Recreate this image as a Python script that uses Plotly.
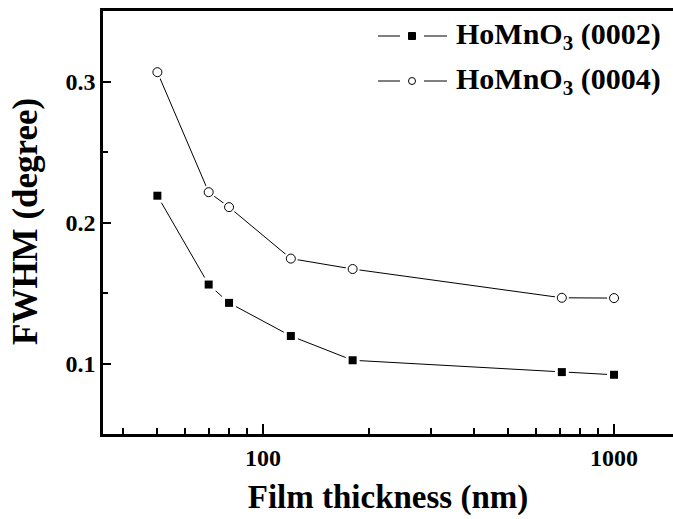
import plotly.graph_objects as go

# Film thickness (nm) and FWHM (degree) for the two HoMnO3 reflections
thickness = [50, 70, 80, 120, 180, 710, 1000]
fwhm_0002 = [0.219, 0.156, 0.143, 0.1195, 0.1023, 0.0939, 0.092]
fwhm_0004 = [0.3066, 0.2215, 0.2109, 0.1744, 0.167, 0.1466, 0.1464]

series_names = ["<b>HoMnO<sub>3</sub> (0002)</b>", "<b>HoMnO<sub>3</sub> (0004)</b>"]

x_major = [100, 1000]
x_minor = [40, 50, 60, 70, 80, 90, 200, 300, 400, 500, 600, 700, 800, 900]
y_major = [0.1, 0.2, 0.3]
y_minor = [0.15, 0.25]

FONT = "Liberation Serif"
W, H = 673, 519
M = dict(l=103, r=0, t=11, b=85)

fig = go.Figure()

styles = [
    dict(symbol="square", size=8, color="black", line=dict(width=0)),
    dict(symbol="circle", size=9, color="white", line=dict(color="black", width=1)),
]

for ys, name, mk in zip([fwhm_0002, fwhm_0004], series_names, styles):
    # connecting line
    fig.add_trace(go.Scatter(x=thickness, y=ys, mode="lines",
                             line=dict(color="black", width=1),
                             showlegend=False, hoverinfo="skip"))
    # white halo leaves a small gap between line and symbol
    fig.add_trace(go.Scatter(x=thickness, y=ys, mode="markers",
                             marker=dict(symbol=mk["symbol"], size=14, color="white",
                                         line=dict(width=0)),
                             showlegend=False, hoverinfo="skip"))
    # data symbols
    fig.add_trace(go.Scatter(x=thickness, y=ys, mode="markers", name=name,
                             marker=mk, showlegend=False))


# Hand-drawn legend (line - symbol - line, then label), in domain fractions
def dom_x(px):
    return (px - M["l"]) / (W - M["l"] - M["r"])


def dom_y(py):
    return (H - M["b"] - py) / (H - M["t"] - M["b"])


legend_rows = [36, 81]
for row_y, name, mk in zip(legend_rows, series_names, styles):
    yy = dom_y(row_y)
    for x0, x1 in [(378, 400), (424, 447)]:
        fig.add_shape(type="line", xref="x domain", yref="y domain",
                      x0=dom_x(x0), x1=dom_x(x1), y0=yy, y1=yy,
                      line=dict(color="black", width=1))
    fig.add_shape(type="rect" if mk["symbol"] == "square" else "circle",
                  xref="x domain", yref="y domain",
                  xsizemode="pixel", ysizemode="pixel",
                  xanchor=dom_x(412), yanchor=yy,
                  x0=-3.5, x1=3.5, y0=-3.5, y1=3.5,
                  fillcolor=mk["color"],
                  line=dict(color="black", width=1))
    fig.add_annotation(xref="x domain", yref="y domain",
                       x=dom_x(454), y=yy, xanchor="left", yanchor="middle",
                       text=name, showarrow=False,
                       font=dict(family=FONT, size=30, color="black"))

# y-axis title placed as rotated text
fig.add_annotation(xref="x domain", yref="y domain",
                   x=dom_x(25), y=dom_y(222), xanchor="center", yanchor="middle",
                   text="<b>FWHM (degree)</b>", textangle=-90, showarrow=False,
                   font=dict(family=FONT, size=35, color="black"))

fig.update_layout(
    width=W, height=H,
    margin=M,
    paper_bgcolor="white", plot_bgcolor="white",
    font=dict(family=FONT, color="black"),
    showlegend=False,
)

fig.update_xaxes(
    type="log", range=[1.544, 3.168],
    showline=True, linecolor="black", linewidth=2.5, mirror=True,
    showgrid=False, zeroline=False,
    ticks="inside", ticklen=10, tickwidth=2, tickcolor="black",
    tickvals=x_major, ticktext=["<b>100</b>", "<b>1000</b>"],
    tickfont=dict(family=FONT, size=24, color="black"),
    minor=dict(tickvals=x_minor, ticks="inside", ticklen=6, tickwidth=2,
               tickcolor="black", showgrid=False),
    title=dict(text="<b>Film thickness (nm)</b>",
               font=dict(family=FONT, size=33, color="black"), standoff=16),
)

fig.update_yaxes(
    range=[0.05, 0.35],
    showline=True, linecolor="black", linewidth=2.5, mirror=False,
    showgrid=False, zeroline=False,
    ticks="inside", ticklen=8, tickwidth=2, tickcolor="black",
    tickvals=y_major, ticktext=["<b>0.1</b>", "<b>0.2</b>", "<b>0.3</b>"],
    tickfont=dict(family=FONT, size=24, color="black"),
    minor=dict(tickvals=y_minor, ticks="inside", ticklen=5, tickwidth=2,
               tickcolor="black", showgrid=False),
)

fig.write_html("out.html")
